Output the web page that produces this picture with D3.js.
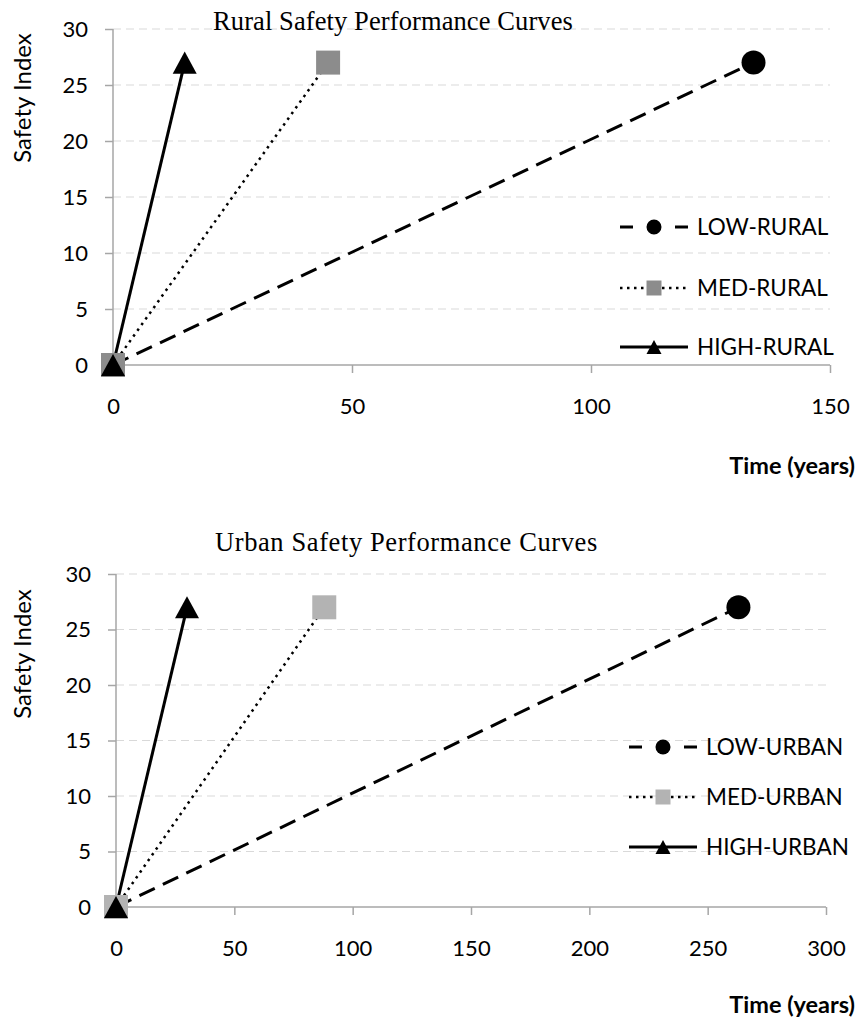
<!DOCTYPE html>
<html>
<head>
<meta charset="utf-8">
<script src="https://cdn.jsdelivr.net/npm/d3@7"></script>
<style>
  html, body { margin: 0; padding: 0; background: #fff; }
  svg { display: block; }
  .tick-label { font-family: Lato, "Open Sans", sans-serif; font-size: 22px; fill: #000; }
  .legend-label { font-family: Lato, "Open Sans", sans-serif; font-size: 22.5px; fill: #000; }
  .axis-title { font-family: Lato, "Open Sans", sans-serif; font-size: 24px; fill: #000; }
  .time-title { font-family: Lato, "Open Sans", sans-serif; font-size: 23.5px; font-weight: bold; fill: #000; }
  .chart-title { font-family: "Liberation Serif", "Times New Roman", serif; font-size: 26.5px; fill: #000; }
</style>
</head>
<body>
<svg id="chart" width="864" height="1027"></svg>
<script>
// Series: each curve runs from (time 0, index 0) to (end time, index 27)
const ruralSeries = ["LOW-RURAL", "MED-RURAL", "HIGH-RURAL"];
const ruralYears = [[0, 134], [0, 45], [0, 15]];
const urbanSeries = ["LOW-URBAN", "MED-URBAN", "HIGH-URBAN"];
const urbanYears = [[0, 263], [0, 88], [0, 30]];
const safetyIndex = [0, 27];

const yTicks = [0, 5, 10, 15, 20, 25, 30];
const ruralXTicks = [0, 50, 100, 150];
const urbanXTicks = [0, 50, 100, 150, 200, 250, 300];

const svg = d3.select("#chart");

// Line styles and markers, by series order (low, medium, high)
const styles = [
  { dash: "17,9", width: 3, marker: "circle" },
  { dash: "2.5,4.5", width: 2.5, marker: "square" },
  { dash: null, width: 3, marker: "triangle" }
];

function markerPath(type, cx, cy, s) {
  if (type === "circle") {
    const r = s / 2;
    return `M${cx - r},${cy}a${r},${r} 0 1,0 ${2 * r},0a${r},${r} 0 1,0 ${-2 * r},0Z`;
  }
  if (type === "square") {
    const h = s / 2;
    return `M${cx - h},${cy - h}h${s}v${s}h${-s}Z`;
  }
  const w = s, h = s * 0.92;
  return `M${cx},${cy - h / 2}L${cx + w / 2},${cy + h / 2}L${cx - w / 2},${cy + h / 2}Z`;
}

function drawPanel(cfg) {
  const g = svg.append("g");
  const x = d3.scaleLinear().domain([0, cfg.xMax]).range([cfg.left, cfg.right]);
  const y = d3.scaleLinear().domain([0, 30]).range([cfg.bottom, cfg.top]);

  // horizontal gridlines
  g.append("g").selectAll("line").data(yTicks.filter(d => d > 0)).join("line")
    .attr("x1", cfg.left).attr("x2", cfg.right)
    .attr("y1", d => y(d)).attr("y2", d => y(d))
    .attr("stroke", "#d9d9d9").attr("stroke-width", 1)
    .attr("stroke-dasharray", "8,5");

  // y axis
  const yAxis = d3.axisLeft(y).tickValues(yTicks).tickSize(8).tickPadding(17).tickFormat(d3.format("d"));
  const ya = g.append("g").attr("transform", `translate(${cfg.left},0)`).call(yAxis);
  ya.select(".domain").attr("stroke", "#a6a6a6").attr("stroke-width", 1.5).attr("d", `M0,${cfg.bottom}V${cfg.top}`);
  ya.selectAll(".tick line").attr("stroke", "#a6a6a6").attr("stroke-width", 1.5);
  ya.selectAll(".tick text").attr("class", "tick-label").attr("font-family", null).attr("font-size", null).attr("fill", null);

  // x axis
  const xAxis = d3.axisBottom(x).tickValues(cfg.xTicks).tickSize(8).tickPadding(25).tickFormat(d3.format("d"));
  const xa = g.append("g").attr("transform", `translate(0,${cfg.bottom})`).call(xAxis);
  xa.select(".domain").attr("stroke", "#a6a6a6").attr("stroke-width", 1.5).attr("d", `M${cfg.left},0H${cfg.right}`);
  xa.selectAll(".tick line").attr("stroke", "#a6a6a6").attr("stroke-width", 1.5);
  xa.selectAll(".tick text").attr("class", "tick-label").attr("font-family", null).attr("font-size", null).attr("fill", null);

  // series lines
  const line = d3.line().x(d => x(d[0])).y(d => y(d[1]));
  cfg.years.forEach((yrs, i) => {
    const pts = yrs.map((t, k) => [t, safetyIndex[k]]);
    g.append("path").datum(pts)
      .attr("d", line)
      .attr("fill", "none").attr("stroke", "#000")
      .attr("stroke-width", styles[i].width)
      .attr("stroke-dasharray", styles[i].dash);
  });

  // series markers
  cfg.years.forEach((yrs, i) => {
    const pts = yrs.map((t, k) => [t, safetyIndex[k]]);
    const color = i === 1 ? cfg.medColor : "#000";
    g.append("g").selectAll("path").data(pts).join("path")
      .attr("d", d => markerPath(styles[i].marker, x(d[0]), y(d[1]), 24))
      .attr("fill", color);
  });

  // legend
  cfg.series.forEach((name, i) => {
    const ly = cfg.legendY[i];
    const lg = g.append("g");
    const x0 = cfg.legendX, x1 = cfg.legendX + 68, mx = cfg.legendX + 34;
    lg.append("line").attr("x1", x0).attr("x2", x1).attr("y1", ly).attr("y2", ly)
      .attr("stroke", "#000").attr("stroke-width", styles[i].width)
      .attr("stroke-dasharray", i === 0 ? "13,42,13" : styles[i].dash);
    lg.append("path").attr("d", markerPath(styles[i].marker, mx, ly, 15))
      .attr("fill", i === 1 ? cfg.medColor : "#000");
    lg.append("text").attr("class", "legend-label")
      .attr("x", x1 + 9).attr("y", ly).attr("dy", "0.36em").text(name);
  });

  // titles
  g.append("text").attr("class", "chart-title")
    .attr("x", cfg.titleX).attr("y", cfg.titleY)
    .attr("letter-spacing", cfg.titleLetterSpacing)
    .text(cfg.title);
  g.append("text").attr("class", "axis-title")
    .attr("transform", `translate(${cfg.yTitleX},${cfg.yTitleY}) rotate(-90)`)
    .attr("text-anchor", "middle").attr("dy", "0.36em").text("Safety Index");
  g.append("text").attr("class", "time-title")
    .attr("x", 855).attr("y", cfg.timeY).attr("text-anchor", "end").attr("dy", "0.36em")
    .text("Time (years)");
}

drawPanel({
  left: 113, right: 830, top: 29, bottom: 365, xMax: 150, xTicks: ruralXTicks,
  years: ruralYears, series: ruralSeries, medColor: "#8c8c8c",
  legendX: 620, legendY: [227, 288, 347],
  title: "Rural Safety Performance Curves", titleX: 213, titleY: 30, titleLetterSpacing: 0.1,
  yTitleX: 22, yTitleY: 98, timeY: 466
});

drawPanel({
  left: 116, right: 826, top: 574, bottom: 907, xMax: 300, xTicks: urbanXTicks,
  years: urbanYears, series: urbanSeries, medColor: "#b3b3b3",
  legendX: 629, legendY: [747, 797, 847],
  title: "Urban Safety Performance Curves", titleX: 215, titleY: 551, titleLetterSpacing: 0.6,
  yTitleX: 22, yTitleY: 654, timeY: 1005
});
</script>
</body>
</html>
